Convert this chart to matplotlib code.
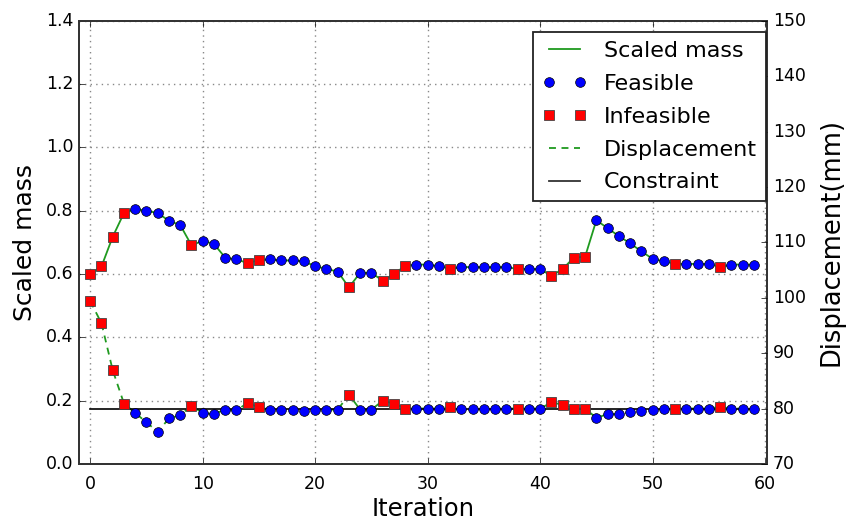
import matplotlib
matplotlib.use("Agg")
import matplotlib.pyplot as plt
import numpy as np
from matplotlib.lines import Line2D

plt.style.use('classic')

# iteration history
iterations = list(range(60))

scaled_mass = [0.600, 0.624, 0.718, 0.793, 0.806, 0.800, 0.793, 0.768, 0.755, 0.691,
               0.705, 0.695, 0.652, 0.646, 0.635, 0.644, 0.646, 0.643, 0.643, 0.640,
               0.625, 0.616, 0.608, 0.558, 0.604, 0.604, 0.579, 0.600, 0.626, 0.630,
               0.630, 0.625, 0.616, 0.622, 0.622, 0.622, 0.622, 0.622, 0.616, 0.616,
               0.616, 0.594, 0.616, 0.652, 0.655, 0.770, 0.745, 0.720, 0.697, 0.672,
               0.648, 0.640, 0.632, 0.632, 0.632, 0.632, 0.622, 0.630, 0.630, 0.630]

displacement = [99.4, 95.4, 86.9, 80.9, 79.2, 77.5, 75.8, 78.2, 78.8, 80.5,
                79.2, 79.0, 79.8, 79.7, 81.0, 80.2, 79.8, 79.8, 79.7, 79.5,
                79.8, 79.8, 79.8, 82.5, 79.8, 79.8, 81.4, 80.9, 80.0, 80.0,
                80.0, 80.0, 80.3, 80.0, 80.0, 80.0, 80.0, 80.0, 80.0, 80.0,
                80.0, 81.1, 80.7, 80.0, 80.0, 78.3, 79.0, 79.0, 79.3, 79.5,
                79.8, 80.0, 80.0, 80.0, 80.0, 80.0, 80.3, 80.0, 80.0, 80.0]

infeasible_iters = [0, 1, 2, 3, 9, 14, 15, 23, 26, 27, 28, 32, 38, 41, 42, 43, 44, 52, 56]

constraint = 80.0

x = np.array(iterations)
mass = np.array(scaled_mass)
disp = np.array(displacement)
bad = np.isin(x, infeasible_iters)
ok = ~bad

green = '#1f9a1f'

fig = plt.figure(figsize=(8.54, 5.23), dpi=100, facecolor='white')
ax1 = fig.add_axes([0.0925, 0.113, 0.806, 0.847])
ax2 = ax1.twinx()

ax1.plot(x, mass, color=green, lw=1.3, zorder=2)
ax1.plot(x[ok], mass[ok], 'o', color='blue', ms=7, mec='k', mew=0.5, zorder=3)
ax1.plot(x[bad], mass[bad], 's', color='red', ms=6.5, mec='#444444', mew=0.6, zorder=3)

ax2.plot(x, disp, '--', color=green, lw=1.3, dashes=(5, 4), zorder=2)
ax2.plot([x[0], x[-1]], [constraint, constraint], color='k', lw=1.2, zorder=2)
ax2.plot(x[ok], disp[ok], 'o', color='blue', ms=7, mec='k', mew=0.5, zorder=3)
ax2.plot(x[bad], disp[bad], 's', color='red', ms=6.5, mec='#444444', mew=0.6, zorder=3)

ax1.set_xlim(-1, 60.2)
ax1.set_ylim(0, 1.4)
ax2.set_ylim(70, 150)
ax1.set_xticks(np.arange(0, 61, 10))
ax1.set_yticks(np.arange(0, 1.41, 0.2))
ax2.set_yticks(np.arange(70, 151, 10))

ax1.grid(True, color='#888888', linestyle=':', linewidth=1.0)
ax1.set_axisbelow(True)

ax1.set_xlabel('Iteration', fontsize=17.5, labelpad=3)
ax1.set_ylabel('Scaled mass', fontsize=18, labelpad=6)
ax2.set_ylabel('Displacement(mm)', fontsize=18.5, labelpad=9)
ax1.tick_params(labelsize=12.5)
ax1.tick_params(axis='x', pad=8)
ax2.tick_params(labelsize=12.5)
for ax in (ax1, ax2):
    for s in ax.spines.values():
        s.set_color('#333333')
        s.set_linewidth(1.3)

handles = [
    Line2D([], [], color=green, lw=1.3),
    Line2D([], [], ls='none', marker='o', color='blue', ms=7, mec='k', mew=0.5),
    Line2D([], [], ls='none', marker='s', color='red', ms=6.5, mec='#444444', mew=0.6),
    Line2D([], [], color=green, lw=1.3, ls='--', dashes=(5, 4)),
    Line2D([], [], color='#333333', lw=1.3),
]
labels = ['Scaled mass', 'Feasible', 'Infeasible', 'Displacement', 'Constraint']
leg = ax2.legend(handles, labels, loc='upper right', numpoints=2, fontsize=16,
                 labelspacing=0.58, handlelength=2.0, borderaxespad=0,
                 bbox_to_anchor=(766 / 854, 1 - 32 / 523),
                 bbox_transform=fig.transFigure,
                 fancybox=False, frameon=True)
leg.get_frame().set_edgecolor('#222222')
leg.get_frame().set_linewidth(1.3)

fig.savefig('out.png', dpi=100, facecolor='white')
